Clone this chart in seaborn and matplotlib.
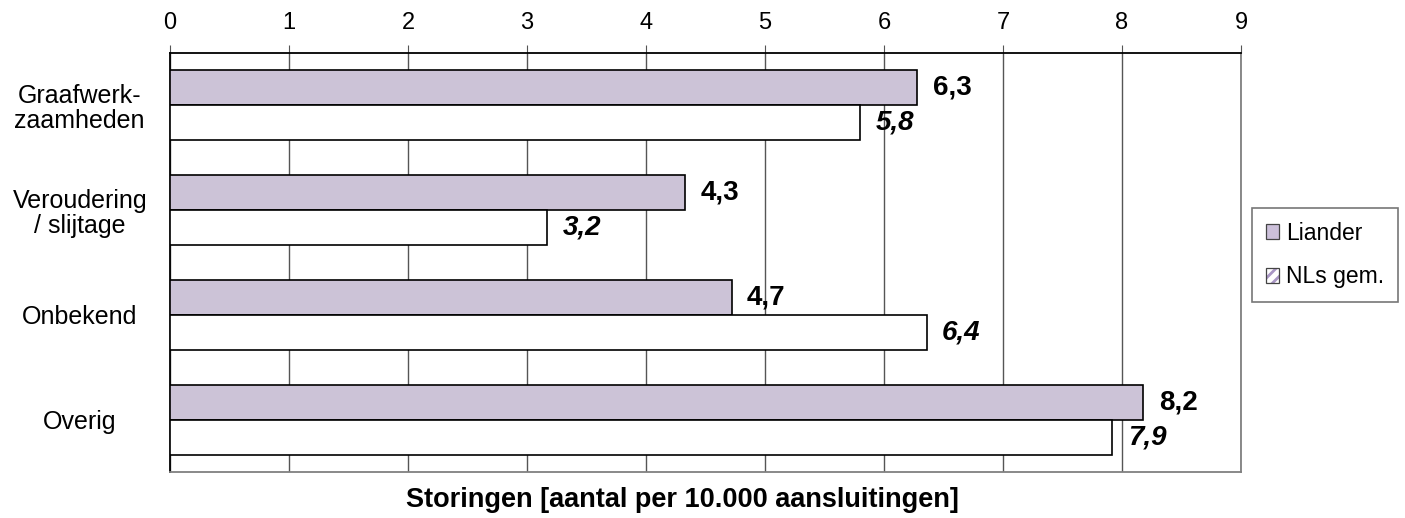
import numpy as np
import pandas as pd
import matplotlib
matplotlib.use("Agg")
import matplotlib.pyplot as plt
from matplotlib.patches import Patch
from matplotlib.legend_handler import HandlerTuple
import seaborn as sns

categorieen = ["Graafwerk-\nzaamheden", "Veroudering\n/ slijtage", "Onbekend", "Overig"]
liander = [6.28, 4.33, 4.72, 8.18]
nls_gem = [5.80, 3.17, 6.36, 7.92]
reeksen = ["Liander", "NLs gem."]
x_ticks = list(range(0, 10))

df = pd.DataFrame({
    "categorie": categorieen * 2,
    "waarde": liander + nls_gem,
    "reeks": [reeksen[0]] * 4 + [reeksen[1]] * 4,
})

sns.set_style("white")
plt.rcParams["font.family"] = ["Liberation Sans", "DejaVu Sans"]
plt.rcParams["text.color"] = "black"
plt.rcParams["xtick.labelcolor"] = "black"
plt.rcParams["ytick.labelcolor"] = "black"
plt.rcParams["hatch.linewidth"] = 2.0
paars = "#ccc0da"

fig = plt.figure(figsize=(14.05, 5.18), dpi=100)
ax = fig.add_axes([170 / 1405, 1 - 472 / 518, (1241 - 170) / 1405, (472 - 53) / 518])

sns.barplot(data=df, x="waarde", y="categorie", hue="reeks", orient="h",
            palette={reeksen[0]: paars, reeksen[1]: "white"},
            edgecolor="black", linewidth=1.2, width=0.67, gap=0,
            legend=False, ax=ax, zorder=3)

ax.set_xlim(0, 9)
ax.set_ylim(3.5, -0.5)
ax.set_xticks(x_ticks)
ax.xaxis.tick_top()
ax.xaxis.set_label_position("top")
ax.tick_params(axis="x", labelsize=17, length=6, direction="out", color="#555555",
               labelcolor="black", pad=8)
ax.set_xlabel("")
ax.set_ylabel("")
ax.grid(axis="x", color="#555555", linewidth=1, zorder=0)
ax.set_axisbelow(True)

ax.set_yticks(range(len(categorieen)))
ax.set_yticklabels(categorieen, fontsize=18, ha="center", multialignment="center",
                   linespacing=1.05, color="black")
ax.tick_params(axis="y", length=0, pad=65)
ax.set_yticks([-0.5, 0.5, 1.5, 2.5, 3.5], minor=True)
ax.tick_params(axis="y", which="minor", length=7, color="#555555", direction="out")

ax.spines["left"].set_color("black")
ax.spines["top"].set_color("black")
ax.spines["right"].set_color("#808080")
ax.spines["bottom"].set_color("#808080")
for s in ax.spines.values():
    s.set_linewidth(1.3)

# waarden bij de balken
for i, cont in enumerate(ax.containers):
    stijl = "normal" if i == 0 else "italic"
    labels = [f"{v:.1f}".replace(".", ",") for v in cont.datavalues]
    ax.bar_label(cont, labels=labels, padding=11, fontsize=20, fontweight="bold",
                 fontstyle=stijl, color="black")

fig.text(682 / 1405, 1 - 500 / 518, "Storingen [aantal per 10.000 aansluitingen]",
         ha="center", va="center", fontsize=19.5, fontweight="bold", color="black")

# legenda: gearceerd vakje voor NLs gem.
rand = Patch(facecolor="none", edgecolor="#444444", linewidth=0.9)
arcering = Patch(facecolor="white", edgecolor="#a996c4", hatch="///", linewidth=0)
handles = [Patch(facecolor=paars, edgecolor="#444444", linewidth=0.9),
           (arcering, rand)]
leg = fig.legend(handles, reeksen, loc="center", bbox_to_anchor=(1325 / 1405, 1 - 255 / 518),
                 handler_map={tuple: HandlerTuple(ndivide=1, pad=0)},
                 fontsize=16.5, frameon=True, fancybox=False, edgecolor="#555555",
                 handlelength=0.6, handleheight=0.6, handletextpad=0.3,
                 labelspacing=0.9, borderpad=0.6)
leg.get_frame().set_linewidth(1.2)

fig.savefig("out.png", dpi=100)
